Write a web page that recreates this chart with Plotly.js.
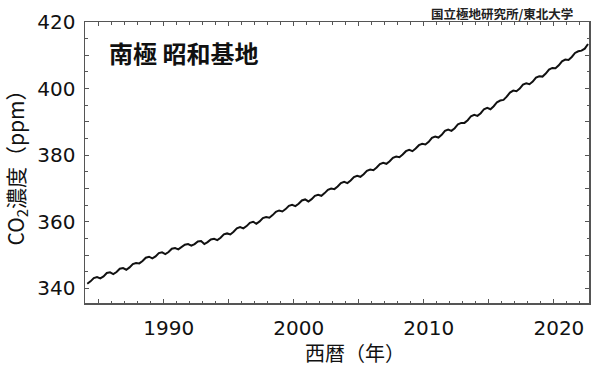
<!DOCTYPE html>
<html>
<head>
<meta charset="utf-8">
<script src="https://cdn.plot.ly/plotly-3.0.1.min.js"></script>
<style>html,body{margin:0;padding:0;background:#fff;}#chart{width:600px;height:366px;}</style>
</head>
<body>
<div id="chart"></div>
<script>
// Syowa Station (Antarctica) CO2, quarterly readings (Feb, May, Aug, Nov) from 1984
const startYear = 1984;
const co2 = [
  341.4, 342.1, 343.1, 343.4,  // 1984
  343.0, 343.6, 344.6, 344.8,  // 1985
  344.3, 344.9, 345.9, 346.1,  // 1986
  345.6, 346.3, 347.3, 347.6,  // 1987
  347.5, 348.2, 349.2, 349.5,  // 1988
  349.0, 349.6, 350.6, 350.8,  // 1989
  350.3, 350.9, 351.9, 352.1,  // 1990
  351.7, 352.3, 353.1, 353.3,  // 1991
  352.8, 353.3, 354.1, 354.2,  // 1992
  353.3, 353.9, 354.7, 354.9,  // 1993
  354.5, 355.2, 356.2, 356.5,  // 1994
  356.2, 357.0, 358.0, 358.4,  // 1995
  358.0, 358.7, 359.7, 360.0,  // 1996
  359.4, 360.1, 361.1, 361.4,  // 1997
  361.2, 362.0, 363.0, 363.4,  // 1998
  363.1, 363.8, 364.8, 365.1,  // 1999
  364.7, 365.4, 366.4, 366.7,  // 2000
  366.1, 366.8, 367.8, 368.1,  // 2001
  367.8, 368.6, 369.6, 370.0,  // 2002
  369.8, 370.6, 371.6, 372.0,  // 2003
  371.6, 372.4, 373.4, 373.8,  // 2004
  373.5, 374.3, 375.3, 375.7,  // 2005
  375.5, 376.3, 377.3, 377.7,  // 2006
  377.4, 378.2, 379.2, 379.6,  // 2007
  379.4, 380.2, 381.2, 381.6,  // 2008
  381.2, 382.0, 383.0, 383.4,  // 2009
  383.2, 384.0, 385.2, 385.6,  // 2010
  385.3, 386.1, 387.3, 387.7,  // 2011
  387.3, 388.1, 389.3, 389.7,  // 2012
  389.7, 390.5, 391.7, 392.1,  // 2013
  391.8, 392.6, 393.8, 394.2,  // 2014
  393.8, 394.7, 395.9, 396.4,  // 2015
  396.6, 397.6, 398.8, 399.4,  // 2016
  399.2, 400.0, 401.2, 401.6,  // 2017
  401.3, 402.1, 403.3, 403.7,  // 2018
  403.6, 404.5, 405.7, 406.2,  // 2019
  406.1, 407.0, 408.2, 408.7,  // 2020
  408.6, 409.5, 410.7, 411.2,  // 2021
  411.4, 412.0, 413.4          // 2022
];
const quarterOffsets = [0.125, 0.375, 0.625, 0.875];
const yLabelVals = [340, 360, 380, 400, 420];
const xLabelVals = [1990, 2000, 2010, 2020];

const t = co2.map((v, i) => startYear + Math.floor(i / 4) + quarterOffsets[i % 4]);

const xRange = [1983.95, 2022.7];
const yRange = [335.6, 420];

const numFont = {family: "DejaVu Sans, Noto Sans CJK JP, sans-serif", size: 20, color: "#111"};
const jpFont = "Noto Sans CJK JP, sans-serif";

const trace = {
  x: t, y: co2, type: "scatter", mode: "lines",
  line: {color: "#111", width: 2},
  hoverinfo: "skip"
};

const axisCommon = {
  showline: true, linecolor: "#555", linewidth: 1.5, mirror: "ticks",
  ticks: "inside", ticklen: 4, tickwidth: 1, tickcolor: "#555",
  showgrid: false, zeroline: false, tickfont: numFont
};

const layout = {
  width: 600, height: 366,
  margin: {l: 85, r: 11, t: 22, b: 63},
  paper_bgcolor: "#fff", plot_bgcolor: "#fff",
  showlegend: false,
  xaxis: Object.assign({}, axisCommon, {
    range: xRange,
    tickmode: "array", tickvals: xLabelVals,
    ticklabelshift: 5, ticklabelstandoff: 6,
    minor: {dtick: 1, ticks: "inside", ticklen: 2.5, tickcolor: "#555", showgrid: false}
  }),
  xaxis2: {
    overlaying: "x", range: xRange, dtick: 5, tick0: 1985, ticks: "inside", ticklen: 4,
    tickcolor: "#555", showticklabels: false, showgrid: false, zeroline: false,
    showline: false, mirror: "ticks", side: "bottom"
  },
  yaxis: Object.assign({}, axisCommon, {
    range: yRange,
    tickmode: "array", tickvals: yLabelVals,
    ticklabelstandoff: 4,
    minor: {dtick: 5, ticks: "inside", ticklen: 2.5, tickcolor: "#555", showgrid: false},
    title: {text: "CO<sub>2</sub>濃度（ppm）", font: {family: jpFont, size: 21, color: "#111"}, standoff: 7}
  }),
  yaxis2: {
    overlaying: "y", range: yRange, dtick: 10, tick0: 340, ticks: "inside", ticklen: 4,
    tickcolor: "#555", showticklabels: false, showgrid: false, zeroline: false,
    showline: false, mirror: "ticks", side: "left"
  },
  annotations: [
    {text: "西暦（年）", xref: "paper", yref: "paper", x: 0.536, y: -0.175, xanchor: "center", yanchor: "middle",
     showarrow: false, font: {family: jpFont, size: 20, color: "#111"}},
    {text: "<b>南極 昭和基地</b>", xref: "paper", yref: "paper", x: 0.043, y: 0.96, xanchor: "left", yanchor: "top",
     showarrow: false, font: {family: jpFont, size: 24, color: "#111"}},
    {text: "<b>国立極地研究所/東北大学</b>", xref: "paper", yref: "paper", x: 0.972, y: 1.032, xanchor: "right", yanchor: "middle",
     showarrow: false, font: {family: jpFont, size: 12.5, color: "#222"}}
  ]
};

const tickTrace = {x: [xRange[0]], y: [yRange[0]], xaxis: "x2", yaxis: "y2", type: "scatter", mode: "markers",
  marker: {opacity: 0}, hoverinfo: "skip"};

Plotly.newPlot("chart", [trace, tickTrace], layout, {displayModeBar: false, staticPlot: true});
</script>
</body>
</html>
